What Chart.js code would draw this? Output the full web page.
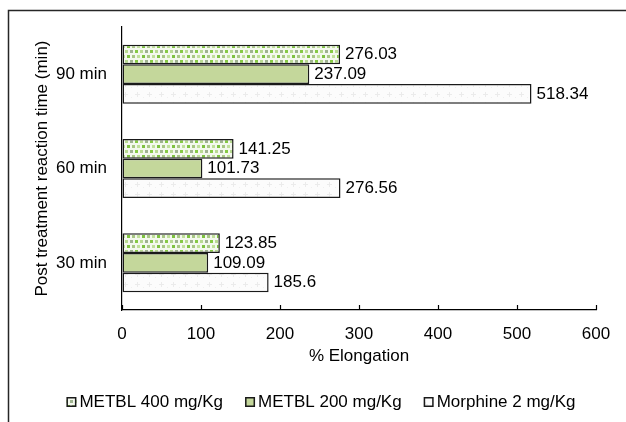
<!DOCTYPE html>
<html>
<head>
<meta charset="utf-8">
<script src="https://cdn.jsdelivr.net/npm/chart.js@4"></script>
<style>
    body { margin: 0; background: #fff; }
    #wrap { width: 626px; height: 422px; }
</style>
</head>
<body>
<div id="wrap"><canvas id="elongChart" width="626" height="422"></canvas></div>
<script>
// data
const categories = ['90 min', '60 min', '30 min'];
const metbl400 = [276.03, 141.25, 123.85];
const metbl200 = [237.09, 101.73, 109.09];
const morphine = [518.34, 276.56, 185.6];
const seriesNames = ['METBL 400 mg/Kg', 'METBL 200 mg/Kg', 'Morphine 2 mg/Kg'];
const xMin = 0, xMax = 600, xStep = 100;

const FONT = '"Liberation Sans", Arial, sans-serif';
const FSIZE = 17;
Chart.defaults.font.family = FONT;
Chart.defaults.font.size = FSIZE;
Chart.defaults.color = '#000';

// dotted green fill
function dotsPattern() {
    const c = document.createElement('canvas');
    c.width = 15; c.height = 10;
    const g = c.getContext('2d');
    g.fillStyle = '#f4f9ee';
    g.fillRect(0, 0, 15, 10);
    const sq = [
        [0, 0, '#86c944'], [5, 0, '#b9da92'], [10, 0, '#9fb38f'],
        [2, 5, '#c1e09b'], [7, 5, '#7fc241'], [12, 5, '#a9c785']
    ];
    sq.forEach(s => {
        g.fillStyle = s[2];
        g.fillRect(s[0], s[1], 3, 3);
        if (s[0] + 3 > 15) g.fillRect(s[0] - 15, s[1], 3, 3);
    });
    return g.createPattern(c, 'repeat');
}

// faint crosses fill
function crossPattern() {
    const c = document.createElement('canvas');
    c.width = 12; c.height = 10;
    const g = c.getContext('2d');
    g.fillStyle = '#fcfcfc';
    g.fillRect(0, 0, 12, 10);
    g.fillStyle = '#ebebeb';
    g.fillRect(5, 2, 1, 5);
    g.fillRect(3, 4, 5, 1);
    g.fillStyle = '#f0f0f0';
    g.fillRect(11, 7, 1, 1);
    return g.createPattern(c, 'repeat');
}

const frame = {
    id: 'frame',
    beforeDraw(chart) {
        const ctx = chart.ctx;
        ctx.save();
        ctx.strokeStyle = '#262626';
        ctx.lineWidth = 1.5;
        ctx.strokeRect(8.5, 10.5, 700, 500);
        ctx.restore();
    },
    afterDatasetsDraw(chart) {
        const ctx = chart.ctx;
        const x = chart.scales.x;
        ctx.save();
        // tick marks pointing up from the axis
        ctx.strokeStyle = '#000';
        ctx.lineWidth = 1.2;
        x.ticks.forEach(t => {
            const px = Math.round(x.getPixelForValue(t.value)) + 0.5;
            ctx.beginPath();
            ctx.moveTo(px, x.top);
            ctx.lineTo(px, x.top - 5);
            ctx.stroke();
        });
        // value labels
        ctx.font = FSIZE + 'px ' + FONT;
        ctx.fillStyle = '#000';
        ctx.textBaseline = 'middle';
        ctx.textAlign = 'left';
        chart.data.datasets.forEach((ds, i) => {
            chart.getDatasetMeta(i).data.forEach((bar, j) => {
                ctx.fillText(String(ds.data[j]), bar.x + 5, bar.y);
            });
        });
        ctx.restore();
    },
    afterDraw(chart) {
        // legend, tighter than the built-in one
        const ctx = chart.ctx;
        const box = 10, gap = 3, between = 22, cy = 402;
        ctx.save();
        ctx.font = FSIZE + 'px ' + FONT;
        const ds = chart.data.datasets;
        let total = 0;
        ds.forEach((d, i) => {
            total += box + gap + ctx.measureText(d.label).width;
            if (i < ds.length - 1) total += between;
        });
        let x = 321 - total / 2;
        ctx.textBaseline = 'middle';
        ctx.textAlign = 'left';
        ds.forEach(d => {
            ctx.fillStyle = d.backgroundColor;
            ctx.fillRect(x, cy - box / 2, box, box);
            ctx.strokeStyle = '#1a1a1a';
            ctx.lineWidth = 1.5;
            ctx.strokeRect(x + 0.75, cy - box / 2 + 0.75, box - 1.5, box - 1.5);
            ctx.fillStyle = '#000';
            ctx.fillText(d.label, x + box + gap, cy);
            x += box + gap + ctx.measureText(d.label).width + between;
        });
        ctx.restore();
    }
};

const ctx = document.getElementById('elongChart').getContext('2d');
new Chart(ctx, {
    type: 'bar',
    data: {
        labels: categories,
        datasets: [
            { label: seriesNames[0], data: metbl400, backgroundColor: dotsPattern() },
            { label: seriesNames[1], data: metbl200, backgroundColor: '#c4d79b' },
            { label: seriesNames[2], data: morphine, backgroundColor: crossPattern() }
        ]
    },
    options: {
        indexAxis: 'y',
        responsive: false,
        animation: false,
        layout: { padding: { left: 0, top: 27, right: 30, bottom: 30 } },
        datasets: {
            bar: {
                borderColor: '#1a1a1a',
                borderWidth: 1.5,
                borderSkipped: false,
                categoryPercentage: 0.625,
                barPercentage: 1.0
            }
        },
        plugins: {
            legend: { display: false },
            tooltip: { enabled: false }
        },
        scales: {
            x: {
                min: xMin,
                max: xMax,
                ticks: { stepSize: xStep, padding: 14, color: '#000' },
                grid: { display: true, drawOnChartArea: false, drawTicks: false },
                border: { display: true, color: '#000', width: 1.2 },
                title: { display: true, text: '% Elongation', padding: { top: 4, bottom: 25 }, color: '#000' },
                afterFit(scale) { scale.height = 82; }
            },
            y: {
                ticks: { padding: 15, color: '#000' },
                grid: { display: false, drawTicks: false },
                border: { display: true, color: '#000', width: 1.2 },
                title: { display: true, text: 'Post treatment reaction time (min)', padding: { top: 32, bottom: 4 }, color: '#000' },
                afterFit(scale) { scale.width = 122; }
            }
        }
    },
    plugins: [frame]
});
</script>
</body>
</html>
